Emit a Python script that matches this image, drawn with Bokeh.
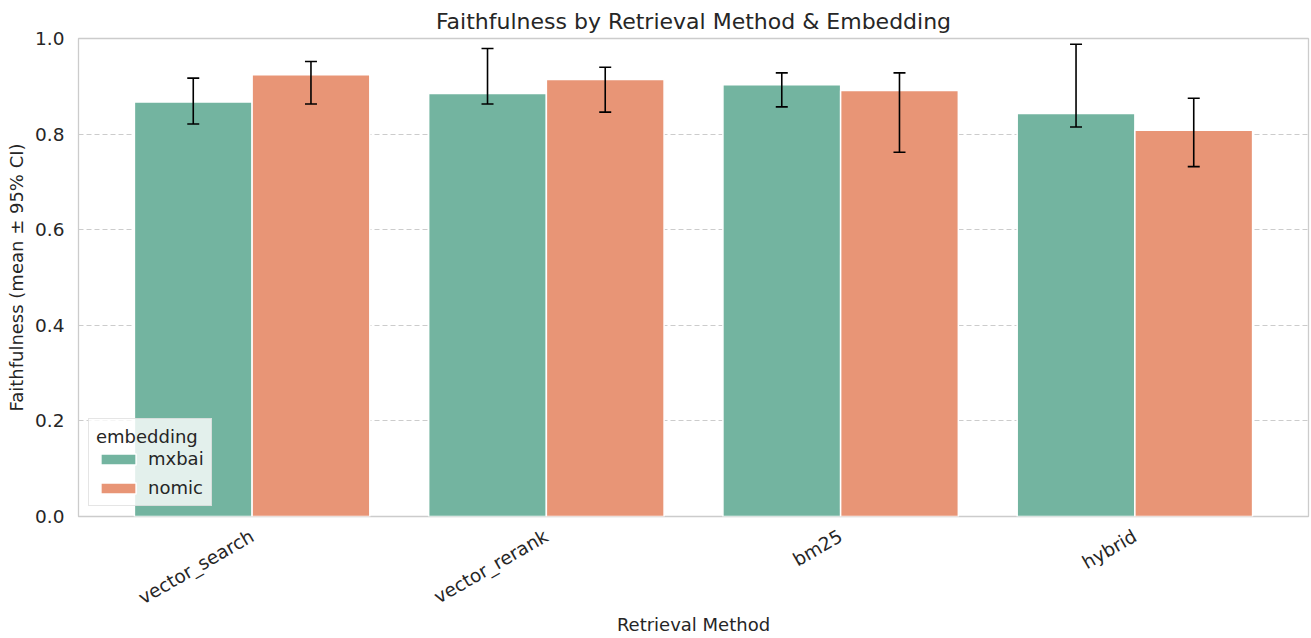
from bokeh.plotting import figure
from bokeh.models import (ColumnDataSource, Range1d, FixedTicker, PrintfTickFormatter,
                          Whisker, TeeHead, Legend, LegendItem)
from bokeh.embed import file_html
from bokeh.resources import INLINE
import math

# Retrieval methods and per-embedding faithfulness (mean with 95% CI bounds)
methods = ["vector_search", "vector_rerank", "bm25", "hybrid"]
embeddings = ["mxbai", "nomic"]

mxbai_mean = [0.867, 0.885, 0.903, 0.843]
mxbai_lo = [0.821, 0.863, 0.857, 0.815]
mxbai_hi = [0.917, 0.979, 0.928, 0.988]

nomic_mean = [0.924, 0.914, 0.891, 0.808]
nomic_lo = [0.863, 0.846, 0.762, 0.732]
nomic_hi = [0.952, 0.940, 0.928, 0.875]

colors = {"mxbai": "#73b4a0", "nomic": "#e89576"}
FONT = "DejaVu Sans"
TXT = "#262626"
FS = "18px"

p = figure(width=1311, height=638, output_backend="svg", toolbar_location=None,
           x_range=Range1d(-0.59, 3.59), y_range=Range1d(0, 1.0),
           title="Faithfulness by Retrieval Method & Embedding",
           min_border_left=78, min_border_right=3, min_border_top=38, min_border_bottom=121)

bar_w = 0.4
renderers = {}
for k, (name, mean, lo, hi) in enumerate([("mxbai", mxbai_mean, mxbai_lo, mxbai_hi),
                                           ("nomic", nomic_mean, nomic_lo, nomic_hi)]):
    offset = -0.2 if k == 0 else 0.2
    src = ColumnDataSource(dict(x=[i + offset for i in range(len(methods))],
                                top=mean, lo=lo, hi=hi))
    r = p.vbar(x="x", top="top", width=bar_w, source=src, fill_color=colors[name],
               line_color="white", line_width=1.5)
    renderers[name] = r
    w = Whisker(base="x", lower="lo", upper="hi", source=src, line_color="black", line_width=1.6,
                level="overlay",
                upper_head=TeeHead(size=12, line_color="black", line_width=1.6),
                lower_head=TeeHead(size=12, line_color="black", line_width=1.6))
    p.add_layout(w)

# Axes and grid
p.xaxis.ticker = FixedTicker(ticks=list(range(len(methods))))
p.xaxis.major_label_overrides = {i: m for i, m in enumerate(methods)}
p.xaxis.major_label_orientation = math.pi / 6
p.yaxis.ticker = FixedTicker(ticks=[0, 0.2, 0.4, 0.6, 0.8, 1.0])
p.yaxis.formatter = PrintfTickFormatter(format="%.1f")
p.xaxis.axis_label = "Retrieval Method"
p.yaxis.axis_label = "Faithfulness (mean ± 95% CI)"

for ax in (p.xaxis, p.yaxis):
    ax.axis_line_color = None
    ax.major_tick_line_color = None
    ax.minor_tick_line_color = None
    ax.major_label_text_font = FONT
    ax.major_label_text_font_size = "18.5px"
    ax.major_label_text_color = TXT
    ax.axis_label_text_font = FONT
    ax.axis_label_text_font_size = FS
    ax.axis_label_text_font_style = "normal"
    ax.axis_label_text_color = TXT
p.xaxis.major_label_standoff = 12
p.xaxis.axis_label_standoff = -6
p.yaxis.major_label_standoff = 8

p.xgrid.grid_line_color = None
p.ygrid.grid_line_color = "#cccccc"
p.ygrid.grid_line_dash = "5 3"
p.ygrid.grid_line_width = 1

p.outline_line_color = "#cccccc"
p.outline_line_width = 1.3

p.title.align = "center"
p.title.text_font = FONT
p.title.text_font_size = "22px"
p.title.text_font_style = "normal"
p.title.text_color = TXT

legend = Legend(items=[LegendItem(label=n, renderers=[renderers[n]]) for n in embeddings],
                location="bottom_left", title="embedding")
legend.title_text_font = FONT
legend.title_text_font_size = FS
legend.title_text_font_style = "normal"
legend.title_text_color = TXT
legend.title_standoff = 1
legend.label_text_font = FONT
legend.label_text_font_size = FS
legend.label_text_color = TXT
legend.glyph_width = 44
legend.glyph_height = 14
legend.label_height = 20
legend.label_standoff = 8
legend.spacing = 8
legend.padding = 7
legend.margin = 10
legend.background_fill_alpha = 0.8
legend.border_line_color = "#cccccc"
legend.border_line_width = 1.2
p.add_layout(legend)

open("out.html", "w").write(file_html(p, INLINE))
